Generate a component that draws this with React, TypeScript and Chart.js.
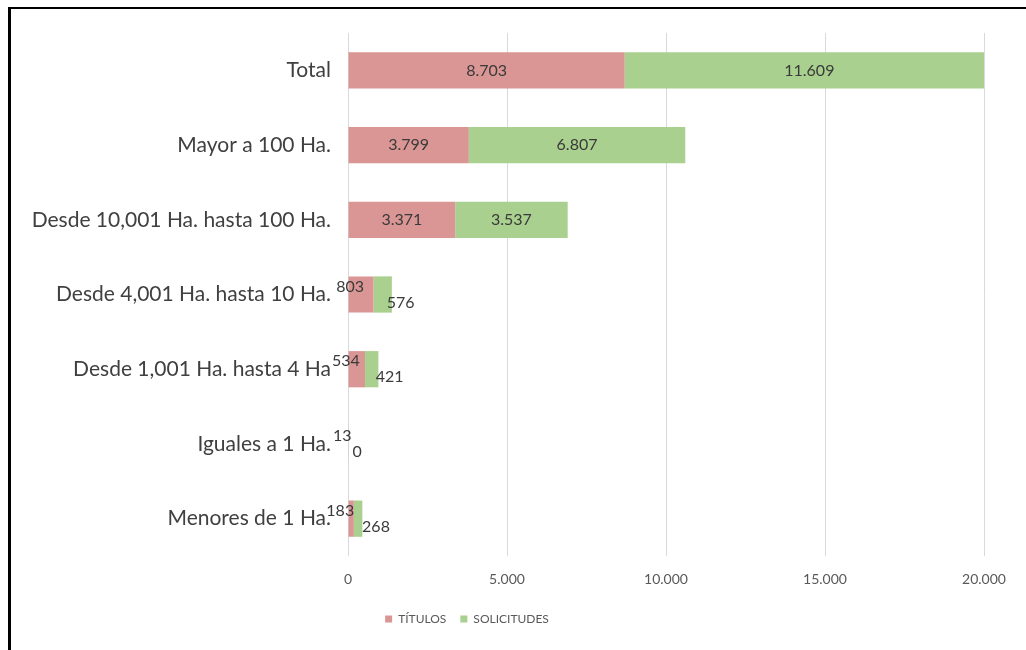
import React, { useEffect, useRef } from "react";
import { Chart, registerables } from "chart.js";

Chart.register(...registerables);

const categories = [
  "Total",
  "Mayor a 100 Ha.",
  "Desde 10,001 Ha. hasta 100 Ha.",
  "Desde 4,001 Ha. hasta 10 Ha.",
  "Desde 1,001 Ha. hasta 4 Ha",
  "Iguales a 1 Ha.",
  "Menores de 1 Ha.",
];
const titulos = [8703, 3799, 3371, 803, 534, 13, 183];
const solicitudes = [11609, 6807, 3537, 576, 421, 0, 268];
const seriesNames = ["TÍTULOS", "SOLICITUDES"];
const xMax = 20000;
const xStep = 5000;

const FONT = "Lato";
const PINK = "#DA9694";
const GREEN = "#A9D08E";

const fmt = (n: number) => String(n).replace(/\B(?=(\d{3})+(?!\d))/g, ".");

const valueLabels = {
  id: "valueLabels",
  afterDatasetsDraw(chart: any) {
    const ctx = chart.ctx;
    ctx.save();
    ctx.font = `16px ${FONT}`;
    ctx.fillStyle = "#3a3a3a";
    ctx.textBaseline = "middle";
    chart.data.datasets.forEach((ds: any, di: number) => {
      const meta = chart.getDatasetMeta(di);
      meta.data.forEach((bar: any, i: number) => {
        const v = ds.data[i];
        const { x, base, y } = bar.getProps(["x", "base", "y"], true);
        const w = x - base;
        const cx = (x + base) / 2;
        const text = fmt(v);
        if (w > 60) {
          ctx.textAlign = "center";
          ctx.fillText(text, cx, y);
        } else if (di === 0) {
          ctx.textAlign = "right";
          ctx.fillText(text, cx + 3, y - 8);
        } else {
          ctx.textAlign = "left";
          ctx.fillText(text, cx + 4, y + 8);
        }
      });
    });
    ctx.restore();
  },
};

const legendShift = {
  id: "legendShift",
  afterLayout(chart: any) {
    const lg = chart.legend;
    if (lg) {
      lg.left -= 25;
      lg.right -= 25;
    }
  },
};

export default function App() {
  const ref = useRef<HTMLCanvasElement | null>(null);

  useEffect(() => {
    if (!ref.current) return;
    const chart = new Chart(ref.current, {
      type: "bar",
      data: {
        labels: categories,
        datasets: [
          {
            label: seriesNames[0],
            data: titulos,
            backgroundColor: PINK,
            borderWidth: 0,
            barPercentage: 0.485,
            categoryPercentage: 1,
          },
          {
            label: seriesNames[1],
            data: solicitudes,
            backgroundColor: GREEN,
            borderWidth: 0,
            barPercentage: 0.485,
            categoryPercentage: 1,
          },
        ],
      },
      options: {
        indexAxis: "y",
        animation: false,
        responsive: false,
        devicePixelRatio: 1,
        layout: { padding: { top: 33, right: 42, bottom: 15, left: 0 } },
        scales: {
          x: {
            stacked: true,
            min: 0,
            max: xMax,
            ticks: {
              stepSize: xStep,
              color: "#595959",
              font: { family: FONT, size: 14 },
              padding: 15,
              callback: (v: any) => fmt(Number(v)),
            },
            grid: { color: "#D9D9D9", drawTicks: false, lineWidth: 1 },
            border: { display: false },
            afterFit: (s: any) => {
              s.height = 43;
            },
          },
          y: {
            stacked: true,
            ticks: {
              color: "#404040",
              font: { family: FONT, size: 21 },
              padding: 17,
            },
            grid: { display: false, drawTicks: false },
            border: { display: false },
            afterFit: (s: any) => {
              s.width = 348;
            },
          },
        },
        plugins: {
          legend: {
            position: "bottom",
            labels: {
              boxWidth: 7,
              boxHeight: 7,
              padding: 14,
              color: "#595959",
              font: { family: FONT, size: 12 },
            },
          },
          tooltip: { enabled: false },
        },
      },
      plugins: [valueLabels, legendShift],
    });
    return () => chart.destroy();
  }, []);

  return (
    <div
      style={{
        position: "fixed",
        left: 0,
        top: 0,
        width: 1026,
        height: 650,
        background: "#fff",
        overflow: "hidden",
      }}
    >
      <canvas
        ref={ref}
        width={1026}
        height={650}
        style={{ position: "absolute", left: 0, top: 0, width: 1026, height: 650 }}
      />
      <div
        style={{
          position: "absolute",
          left: 8,
          top: 7,
          right: 0,
          bottom: 0,
          borderTop: "2px solid #000",
          borderLeft: "3px solid #000",
          pointerEvents: "none",
        }}
      />
    </div>
  );
}
